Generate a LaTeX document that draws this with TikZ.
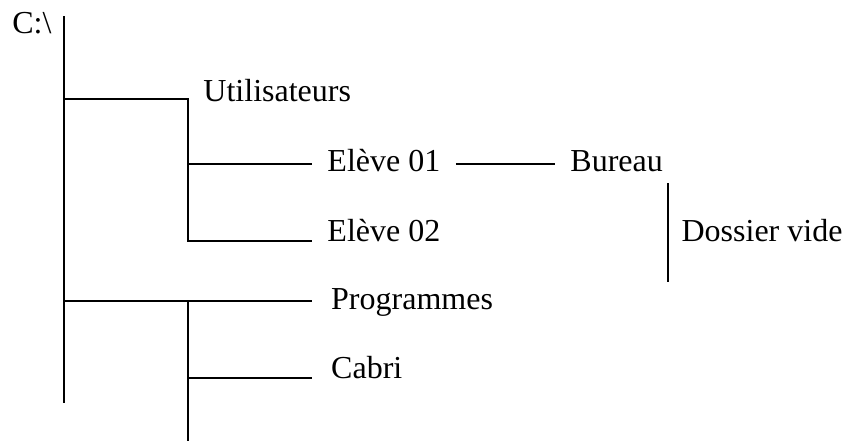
\documentclass[tikz,border=0pt]{standalone}
\usepackage{fontspec}
\setmainfont{Liberation Serif}
\usetikzlibrary{positioning,calc}

\begin{document}
\begin{tikzpicture}[
  x=0.375pt, y=-0.375pt,
  folder/.style={anchor=base west, inner xsep=5.6pt, inner ysep=0pt, font=\fontsize{12}{14}\selectfont},
  branch/.style={line width=0.75pt}
]
\useasboundingbox (0,0) rectangle (845,441);

% tree trunk and junctions
\coordinate (top) at (64,16);
\coordinate (bot) at (64,403);
\coordinate (ju) at (64,99);
\coordinate (jp) at (64,301);
\coordinate (e1j) at (188,164);
\coordinate (e2j) at (188,241);
\coordinate (cj) at (188,378);
\coordinate (pend) at (188,441);
\coordinate (dtop) at (668,183);
\coordinate (dbot) at (668,282);

\node[folder, anchor=base east, inner xsep=0pt] (root) at (52,33) {C:\textbackslash};
\node[folder] (util) at (188,101) {Utilisateurs};
\node[folder] (e1) at (312,171) {Elève 01};
\node[folder] (e2) at (312,241) {Elève 02};
\node[folder] (bur) at (555,171) {Bureau};
\node[folder, inner xsep=4.9pt] (dos) at (668,241) {Dossier vide};
\node[folder, inner xsep=7pt] (prog) at (312,309) {Programmes};
\node[folder, inner xsep=7pt] (cab) at (312,378) {Cabri};

\draw[branch] (top) -- (bot);
\draw[branch] (ju) -| (e2j) -- (e2j -| e2.west);
\draw[branch] (e1j) -- (e1j -| e1.west);
\draw[branch] (e1.east |- e1j) -- (bur.west |- e1j);
\draw[branch] (jp) -- (jp -| prog.west);
\draw[branch] (jp -| util.west) -- (pend);
\draw[branch] (cj) -- (cj -| cab.west);
\draw[branch] (dtop) -- (dbot);
\end{tikzpicture}
\end{document}
